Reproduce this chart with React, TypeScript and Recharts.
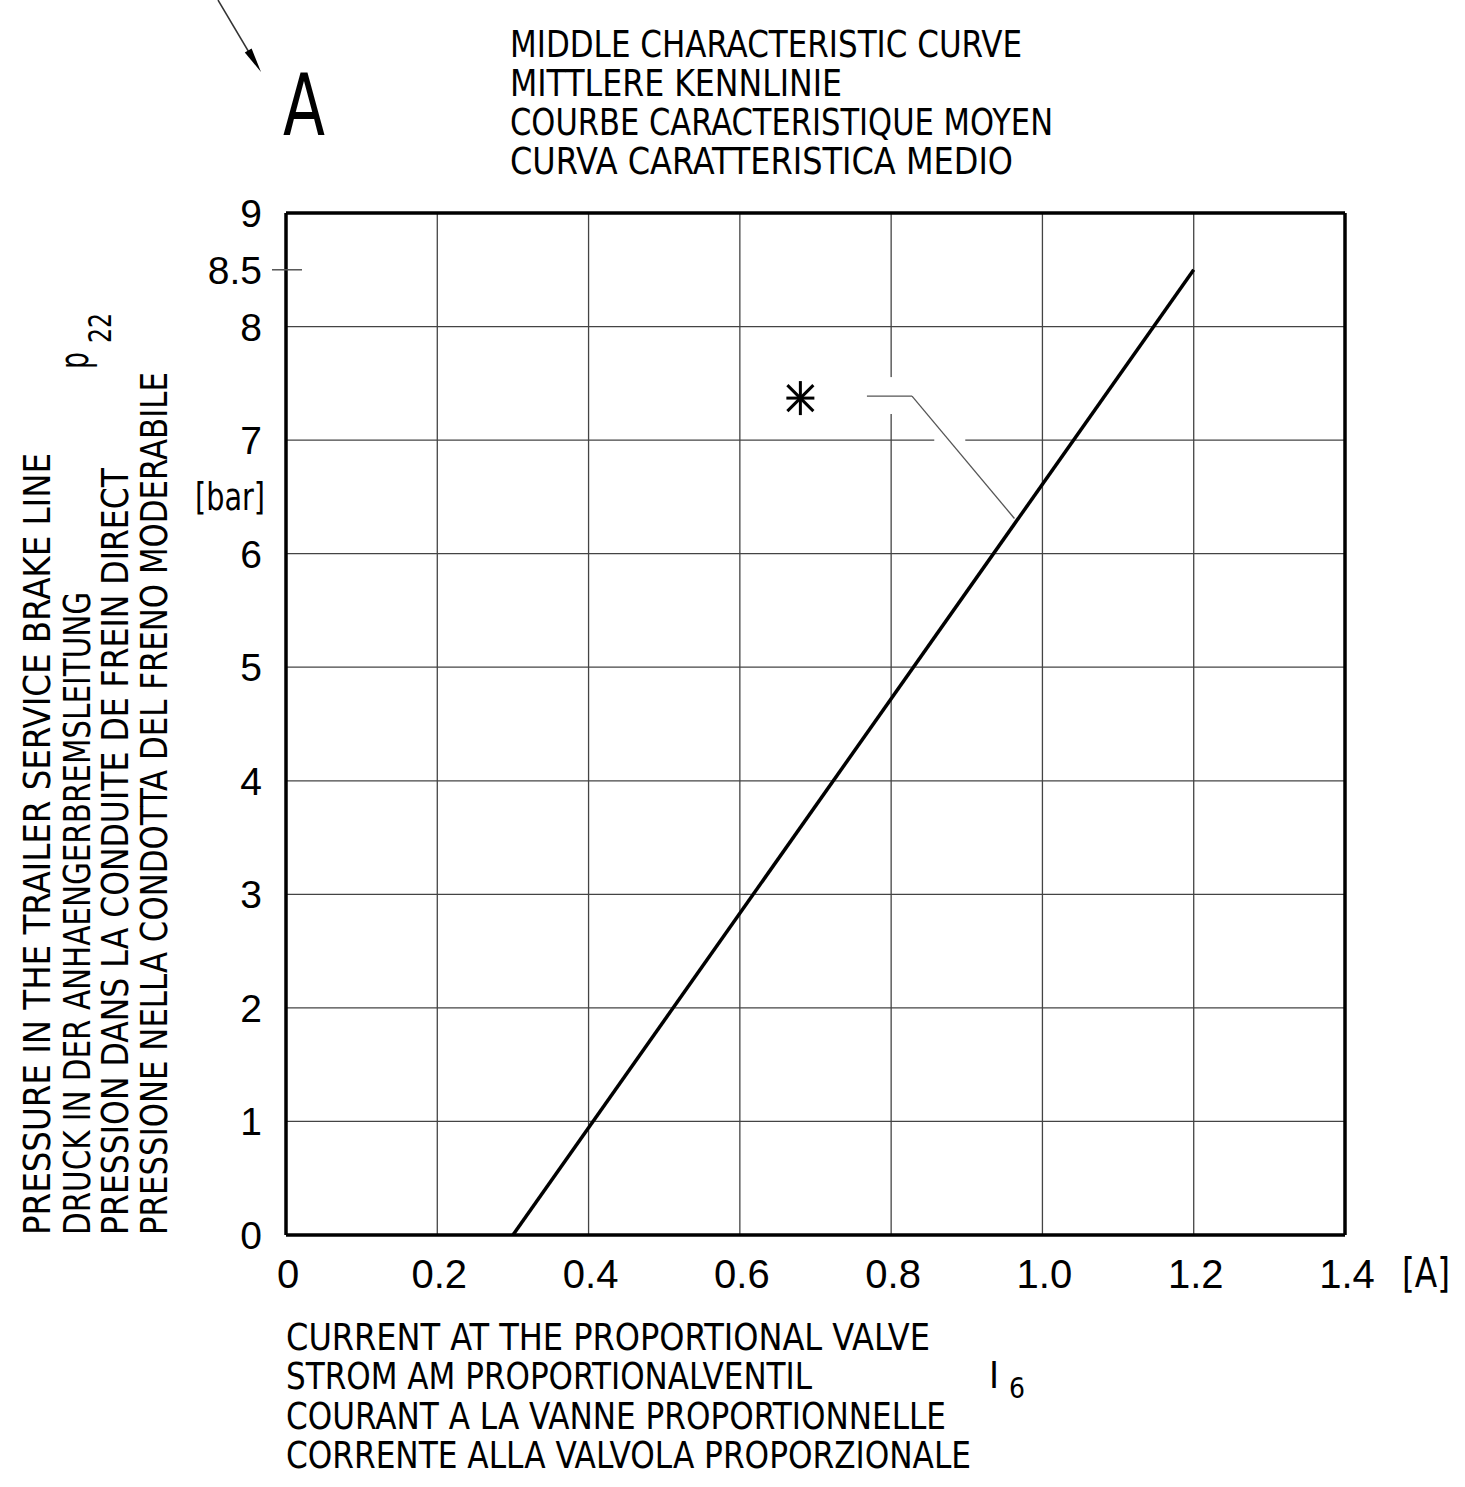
import React from 'react';
import {
  LineChart,
  Line,
  Scatter,
  XAxis,
  YAxis,
  CartesianGrid,
  ReferenceLine,
} from 'recharts';

// current I6 [A] -> pressure p22 [bar], middle characteristic curve
const curve = [
  { current: 0.3, pressure: 0 },
  { current: 1.2, pressure: 8.5 },
];
const marker = [{ current: 0.68, pressure: 7.37 }];

const xTicks = [0, 0.2, 0.4, 0.6, 0.8, 1.0, 1.2, 1.4];
const yTicks = [0, 1, 2, 3, 4, 5, 6, 7, 8, 8.5, 9];
const yGrid = [0, 1, 2, 3, 4, 5, 6, 7, 8, 9];

const titleLines = [
  'MIDDLE CHARACTERISTIC CURVE',
  'MITTLERE KENNLINIE',
  'COURBE CARACTERISTIQUE MOYEN',
  'CURVA CARATTERISTICA MEDIO',
];
const titleWidths = [512, 332, 543, 503];

const xLabelLines = [
  'CURRENT AT THE PROPORTIONAL VALVE',
  'STROM AM PROPORTIONALVENTIL',
  'COURANT A LA VANNE PROPORTIONNELLE',
  'CORRENTE ALLA VALVOLA PROPORZIONALE',
];
const xLabelWidths = [644, 526, 660, 685];

const yLabelLines = [
  'PRESSURE IN THE TRAILER SERVICE BRAKE LINE',
  'DRUCK IN DER ANHAENGERBREMSLEITUNG',
  'PRESSION DANS LA CONDUITE DE FREIN DIRECT',
  'PRESSIONE NELLA CONDOTTA DEL FRENO MODERABILE',
];
const yLabelWidths = [782, 643, 767, 863];

const W = 1465;
const H = 1487;
const PLOT_LEFT = 286;
const PLOT_BOTTOM = 1235;
const NARROW = "'Liberation Sans Narrow', 'DejaVu Sans Condensed', 'Liberation Sans', sans-serif";
const DIGITS = "'Liberation Sans', Arial, sans-serif";

function T({ x, y, len, size = 37, children, font = NARROW, ...rest }: any) {
  return (
    <text
      x={x}
      y={y}
      fontSize={size}
      fontFamily={font}
      fill="#000"
      textLength={len}
      lengthAdjust="spacingAndGlyphs"
      {...rest}
    >
      {children}
    </text>
  );
}

function YTick(props: any) {
  const { y, payload } = props;
  const v = payload.value;
  const x = PLOT_LEFT;
  return (
    <g>
      {v === 8.5 && <line x1={x - 14} x2={x + 16} y1={y} y2={y} stroke="#555" strokeWidth={1.5} />}
      <text x={x - 24} y={y + 14} textAnchor="end" fontSize={39} fontFamily={DIGITS} fill="#000">
        {String(v)}
      </text>
    </g>
  );
}

function XTick(props: any) {
  const { x, payload } = props;
  const v = payload.value;
  return (
    <text x={x + 2} y={PLOT_BOTTOM + 53} textAnchor="middle" fontSize={40} fontFamily={DIGITS} fill="#000">
      {v === 0 ? '0' : v.toFixed(1)}
    </text>
  );
}

function Asterisk({ cx, cy }: any) {
  return (
    <g stroke="#000" strokeWidth={3}>
      <line x1={cx} x2={cx} y1={cy - 17} y2={cy + 17} />
      <line x1={cx - 14} x2={cx + 14} y1={cy} y2={cy} />
      <line x1={cx - 13} x2={cx + 13} y1={cy - 13} y2={cy + 13} />
      <line x1={cx - 13} x2={cx + 13} y1={cy + 13} y2={cy - 13} />
    </g>
  );
}

export default function App() {
  return (
    <div style={{ position: 'absolute', left: 0, top: 0, width: W, height: H, background: '#fff' }}>
      <LineChart
        width={W}
        height={H}
        data={curve}
        margin={{ top: 213, right: 120, bottom: 192, left: 206 }}
      >
        <CartesianGrid
          stroke="#444"
          strokeWidth={1.3}
          horizontalValues={yGrid}
          verticalValues={xTicks}
        />
        <XAxis
          type="number"
          dataKey="current"
          domain={[0, 1.4]}
          ticks={xTicks}
          height={60}
          tickSize={0}
          tickLine={false}
          axisLine={false}
          tick={(p: any) => <XTick {...p} />}
          interval={0}
          allowDataOverflow
        />
        <YAxis
          type="number"
          dataKey="pressure"
          domain={[0, 9]}
          ticks={yTicks}
          width={80}
          tickSize={0}
          tickLine={false}
          axisLine={false}
          tick={(p: any) => <YTick {...p} />}
          interval={0}
          allowDataOverflow
        />
        {/* breaks in the grid around the leader line */}
        <ReferenceLine
          segment={[{ x: 0.8, y: 7.23 }, { x: 0.8, y: 7.555 }]}
          stroke="#fff"
          strokeWidth={4}
        />
        <ReferenceLine
          segment={[{ x: 0.857, y: 7 }, { x: 0.898, y: 7 }]}
          stroke="#fff"
          strokeWidth={4}
        />
        {/* leader line from the marker to the curve */}
        <ReferenceLine
          segment={[{ x: 0.768, y: 7.388 }, { x: 0.8276, y: 7.388 }]}
          stroke="#555"
          strokeWidth={1.3}
        />
        <ReferenceLine
          segment={[{ x: 0.8276, y: 7.388 }, { x: 0.963, y: 6.31 }]}
          stroke="#555"
          strokeWidth={1.3}
        />
        {/* frame */}
        <ReferenceLine x={0} stroke="#000" strokeWidth={3.5} />
        <ReferenceLine x={1.4} stroke="#000" strokeWidth={3.5} />
        <ReferenceLine y={0} stroke="#000" strokeWidth={3.5} />
        <ReferenceLine y={9} stroke="#000" strokeWidth={3.5} />
        <Line
          type="linear"
          dataKey="pressure"
          stroke="#000"
          strokeWidth={3.5}
          dot={false}
          isAnimationActive={false}
        />
        <Scatter
          data={marker}
          dataKey="pressure"
          shape={(p: any) => <Asterisk cx={p.cx} cy={p.cy} />}
          isAnimationActive={false}
        />
      </LineChart>

      <svg
        width={W}
        height={H}
        style={{ position: 'absolute', left: 0, top: 0, pointerEvents: 'none' }}
      >
        {/* arrow pointing at the letter */}
        <line x1={218} y1={0} x2={250} y2={54} stroke="#333" strokeWidth={1.5} />
        <polygon points="261,72 244.8,52.5 251.6,48.5" fill="#000" />
        <T x={283} y={135} size={85} len={42}>A</T>

        {titleLines.map((s, i) => (
          <T key={s} x={510} y={57 + i * 39} len={titleWidths[i]}>{s}</T>
        ))}

        {xLabelLines.map((s, i) => (
          <T key={s} x={286} y={1350 + i * 39.3} len={xLabelWidths[i]}>{s}</T>
        ))}
        <T x={989} y={1388} len={10}>I</T>
        <T x={1009} y={1398} size={29} len={16}>6</T>
        <T x={1402} y={1287} size={40} len={48}>[A]</T>

        {yLabelLines.map((s, i) => {
          const bx = [50, 90, 128, 167][i];
          return (
            <T key={s} x={bx} y={1235} len={yLabelWidths[i]} transform={`rotate(-90 ${bx} 1235)`}>
              {s}
            </T>
          );
        })}
        <T x={88} y={369} size={40} len={17} transform="rotate(-90 88 369)">p</T>
        <T x={111} y={343} size={32} len={30} transform="rotate(-90 111 343)">22</T>
        <T x={195} y={510} len={70}>[bar]</T>
      </svg>
    </div>
  );
}
